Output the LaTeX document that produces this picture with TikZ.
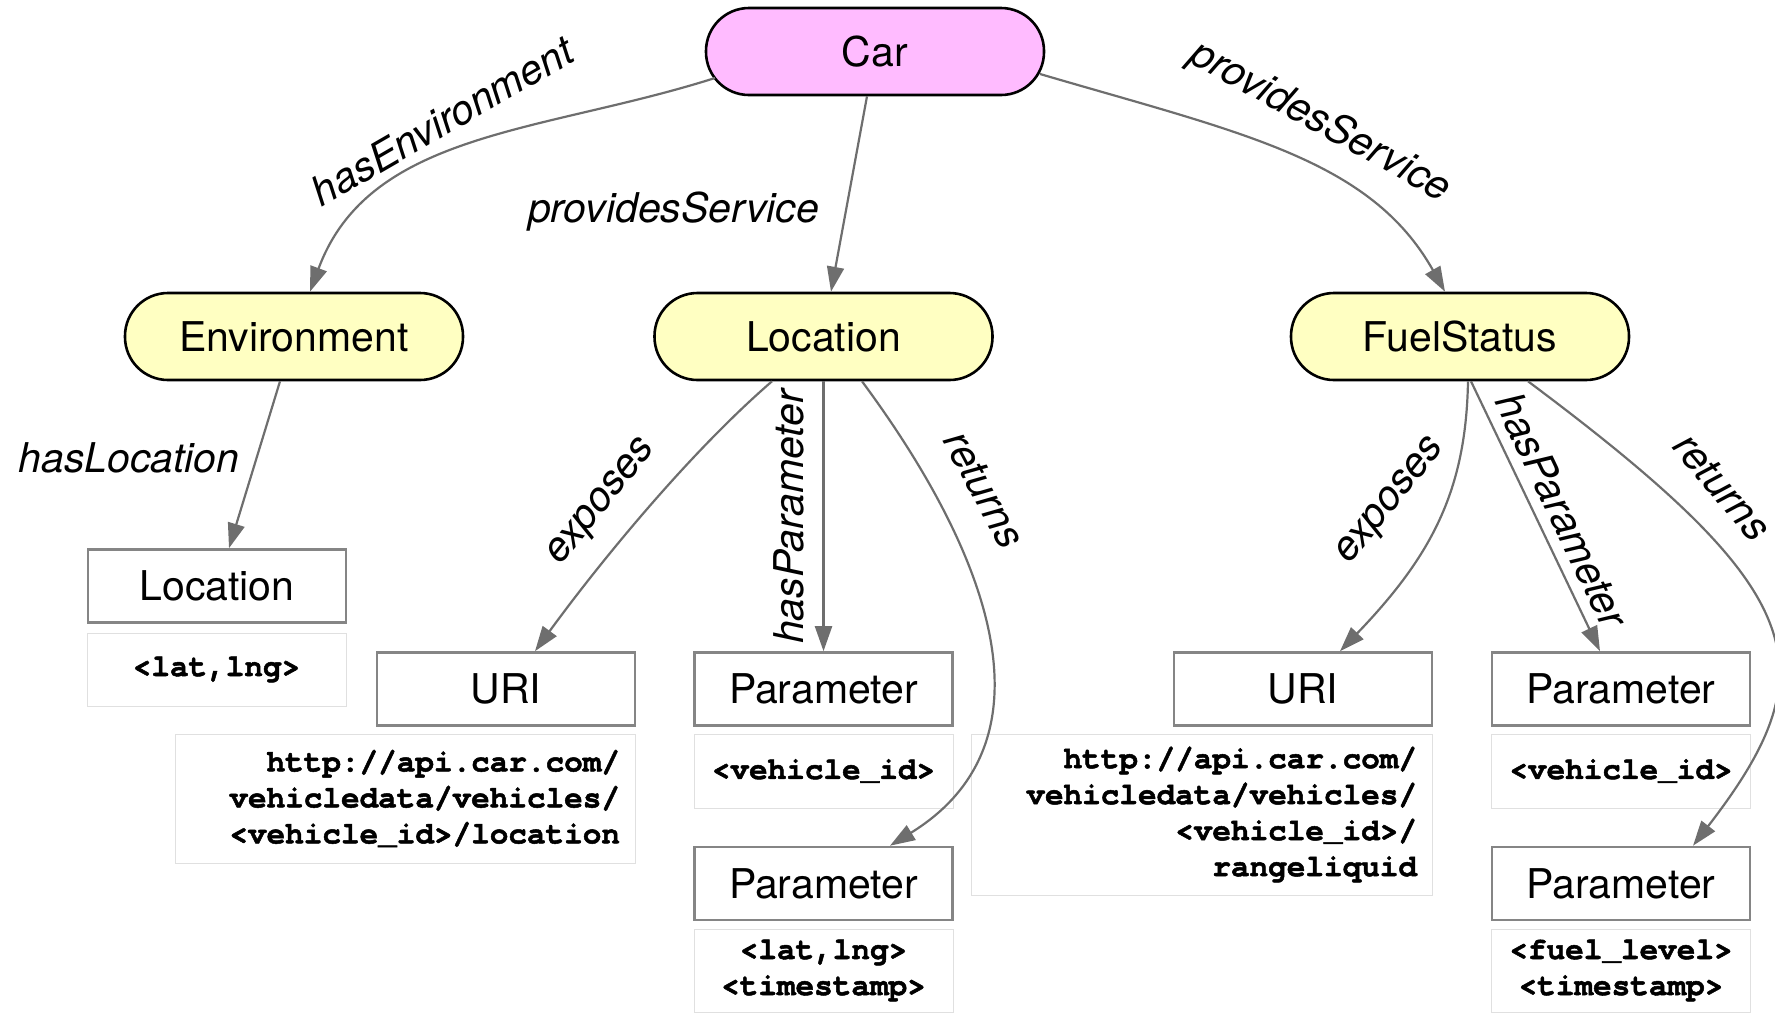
\documentclass[tikz,border=0pt]{standalone}
\usepackage{fontspec}
\setmainfont{TeX Gyre Heros}
\newfontfamily\codefont{TeX Gyre Cursor}[BoldFeatures={FakeBold=1.6}]
\usetikzlibrary{arrows.meta,calc}
\definecolor{carpink}{HTML}{FFBBFF}
\definecolor{envyellow}{HTML}{FFFFC2}
\definecolor{edgegray}{HTML}{6E6E6E}
\definecolor{boxgray}{HTML}{858585}
\definecolor{codeline}{HTML}{E0E0E0}
\begin{document}
\begin{tikzpicture}[x=1pt,y=-1pt,
  cls/.style={draw=black, line width=2.6pt, rounded corners=43pt, minimum width=338pt, minimum height=87pt, inner sep=0pt, font=\fontsize{41}{49}\selectfont},
  inst/.style={draw=boxgray, line width=2.6pt, minimum width=258pt, minimum height=73pt, inner sep=0pt, font=\fontsize{41}{49}\selectfont},
  code/.style={draw=codeline, line width=1pt, inner sep=0pt, font=\codefont\bfseries\fontsize{31}{36}\selectfont},
  rel/.style={draw=edgegray, line width=2.2pt, -{Triangle[length=25pt,width=17pt]}},
  lab/.style={font=\itshape\fontsize{41}{49}\selectfont, inner sep=0pt}]
\useasboundingbox (0,0) rectangle (1775,1013);
\clip (0,0) rectangle (1775,1013);

% class nodes
\node[cls, fill=carpink] (car) at (875,51.5) {Car};
\node[cls, fill=envyellow] (env) at (294,336.5) {Environment};
\node[cls, fill=envyellow] (loc) at (823.5,336.5) {Location};
\node[cls, fill=envyellow] (fuel) at (1460,336.5) {FuelStatus};

% instance boxes
\node[inst] (locbox) at (217,586) {Location};
\node[code, minimum width=259pt, minimum height=73pt] (locval) at (216.5,669.5) {<lat,lng>};

\node[inst] (uri1) at (506,689) {URI};
\node[code, minimum width=460pt, minimum height=129pt, text width=430pt, align=right] (uri1val) at (405,798.5)
  {http://api.car.com/\\vehicledata/vehicles/\\<vehicle\_id>/location};

\node[inst] (par1) at (823.5,689) {Parameter};
\node[code, minimum width=259pt, minimum height=74pt] (par1val) at (823.5,771) {<vehicle\_id>};
\node[inst] (par2) at (823.5,883.5) {Parameter};
\node[code, minimum width=259pt, minimum height=83pt, align=center] (par2val) at (823.5,970.5) {<lat,lng>\\<timestamp>};

\node[inst] (uri2) at (1303,689) {URI};
\node[code, minimum width=461pt, minimum height=161pt, text width=431pt, align=right] (uri2val) at (1201.5,814.5)
  {http://api.car.com/\\vehicledata/vehicles/\\<vehicle\_id>/\\rangeliquid};

\node[inst] (par3) at (1621,689) {Parameter};
\node[code, minimum width=259pt, minimum height=74pt] (par3val) at (1621,771) {<vehicle\_id>};
\node[inst] (par4) at (1621,883.5) {Parameter};
\node[code, minimum width=259pt, minimum height=83pt, align=center] (par4val) at (1621,970.5) {<fuel\_level>\\<timestamp>};

% connectors
\draw[rel] ([shift={(-160,26.5)}]car.center) .. controls (542,133) and (369.5,131) .. ([shift={(16,0)}]env.north);
\draw[rel] ([shift={(-8,0)}]car.south) -- ([shift={(7.5,0)}]loc.north);
\draw[rel] ([shift={(165,22.5)}]car.center) .. controls (1241,133) and (1370.5,159) .. ([shift={(-15,0)}]fuel.north);
\draw[rel] ([shift={(-14,0)}]env.south) -- ([shift={(12,0)}]locbox.north);
\draw[rel] ([shift={(-51.5,0)}]loc.south) .. controls (689.5,452.6) and (600,562) .. ([shift={(29,0)}]uri1.north);
\draw[rel] (loc.south) -- (par1.north);
\draw[rel] ([shift={(38.5,0)}]loc.south) .. controls (992,557) and (1058,742) .. ([shift={(66.5,0)}]par2.north);
\draw[rel] ([shift={(8,0)}]fuel.south) .. controls (1466,489) and (1433,554.5) .. ([shift={(37,0)}]uri2.north);
\draw[rel] ([shift={(11,0)}]fuel.south) -- ([shift={(-21,0)}]par3.north);
\draw[rel] ([shift={(68,0)}]fuel.south) .. controls (1810,592) and (1831,667) .. ([shift={(72,0)}]par4.north);

% labels
\node[lab, rotate=30] (lhasenv) at (442,121) {hasEnvironment};
\node[lab, anchor=base] (lps1) at (673.5,222) {providesService};
\node[lab, rotate=-29] (lps2) at (1320,122) {providesService};
\node[lab, anchor=base] (lhasloc) at (129,472) {hasLocation};
\node[lab, rotate=51] (lexp1) at (603,503) {exposes};
\node[lab, rotate=90] (lhp1) at (789,517) {hasParameter};
\node[lab, rotate=-62] (lret1) at (984,490) {returns};
\node[lab, rotate=51] (lexp2) at (1392,502) {exposes};
\node[lab, rotate=-64.5] (lhp2) at (1562,510) {hasParameter};
\node[lab, rotate=-50] (lret2) at (1722,487) {returns};
\end{tikzpicture}
\end{document}
